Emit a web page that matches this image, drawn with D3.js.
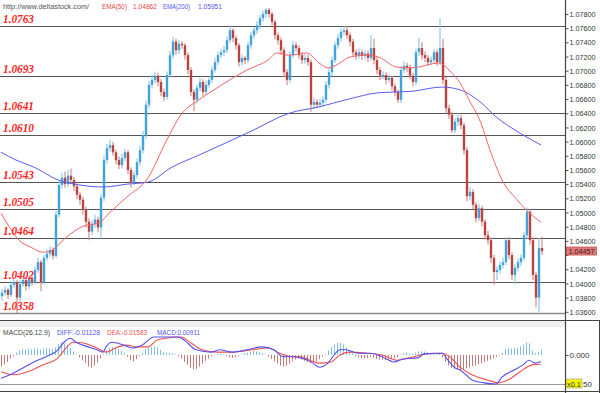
<!DOCTYPE html>
<html><head><meta charset="utf-8">
<script src="https://cdn.jsdelivr.net/npm/d3@7"></script>
<style>body{margin:0;background:#fff}svg{display:block}</style>
</head><body><svg id="c" width="600" height="393"></svg>
<script>
const opens = [1.0382,1.0387,1.0391,1.0384,1.0398,1.0402,1.0380,1.0399,1.0405,1.0396,
1.0406,1.0402,1.0419,1.0430,1.0402,1.0436,1.0442,1.0447,1.0439,1.0497,
1.0539,1.0549,1.0540,1.0552,1.0546,1.0537,1.0525,1.0518,1.0504,1.0487,
1.0473,1.0484,1.0490,1.0479,1.0521,1.0574,1.0591,1.0595,1.0585,1.0574,
1.0567,1.0577,1.0585,1.0560,1.0543,1.0553,1.0571,1.0588,1.0609,1.0652,
1.0680,1.0687,1.0693,1.0684,1.0670,1.0663,1.0694,1.0722,1.0741,1.0729,
1.0738,1.0736,1.0722,1.0701,1.0670,1.0659,1.0676,1.0684,1.0670,1.0680,
1.0687,1.0701,1.0712,1.0722,1.0726,1.0729,1.0743,1.0757,1.0746,1.0736,
1.0712,1.0718,1.0715,1.0736,1.0750,1.0757,1.0764,1.0774,1.0780,1.0786,
1.0780,1.0769,1.0750,1.0743,1.0729,1.0698,1.0687,1.0722,1.0736,1.0732,
1.0722,1.0715,1.0718,1.0712,1.0652,1.0656,1.0652,1.0655,1.0659,1.0680,
1.0698,1.0715,1.0736,1.0746,1.0755,1.0757,1.0750,1.0741,1.0726,1.0722,
1.0726,1.0721,1.0724,1.0718,1.0732,1.0715,1.0701,1.0693,1.0694,1.0687,
1.0690,1.0678,1.0670,1.0659,1.0701,1.0707,1.0704,1.0693,1.0684,1.0726,
1.0732,1.0722,1.0718,1.0712,1.0715,1.0726,1.0712,1.0732,1.0687,1.0647,
1.0638,1.0616,1.0628,1.0633,1.0623,1.0588,1.0523,1.0529,1.0511,1.0492,
1.0506,1.0487,1.0468,1.0461,1.0436,1.0416,1.0419,1.0426,1.0430,1.0461,
1.0440,1.0412,1.0422,1.0430,1.0436,1.0468,1.0501,1.0461,1.0412,1.0380,
1.0450];
const highs = [1.0392,1.0396,1.0394,1.0403,1.0408,1.0405,1.0404,1.0410,1.0409,1.0411,
1.0410,1.0424,1.0436,1.0433,1.0440,1.0448,1.0452,1.0451,1.0502,1.0545,
1.0556,1.0558,1.0560,1.0562,1.0550,1.0541,1.0529,1.0522,1.0508,1.0492,
1.0489,1.0497,1.0494,1.0526,1.0580,1.0597,1.0602,1.0600,1.0589,1.0579,
1.0583,1.0590,1.0588,1.0564,1.0558,1.0576,1.0594,1.0615,1.0658,1.0686,
1.0694,1.0699,1.0697,1.0688,1.0675,1.0699,1.0728,1.0748,1.0745,1.0743,
1.0742,1.0739,1.0726,1.0705,1.0674,1.0681,1.0690,1.0688,1.0686,1.0692,
1.0706,1.0718,1.0727,1.0731,1.0735,1.0749,1.0764,1.0760,1.0750,1.0739,
1.0723,1.0721,1.0741,1.0755,1.0762,1.0770,1.0779,1.0785,1.0788,1.0788,
1.0783,1.0772,1.0754,1.0747,1.0733,1.0702,1.0727,1.0742,1.0740,1.0736,
1.0726,1.0723,1.0723,1.0716,1.0662,1.0660,1.0661,1.0664,1.0685,1.0703,
1.0720,1.0741,1.0752,1.0760,1.0764,1.0763,1.0754,1.0745,1.0730,1.0731,
1.0730,1.0729,1.0728,1.0750,1.0745,1.0719,1.0705,1.0699,1.0698,1.0695,
1.0693,1.0682,1.0673,1.0706,1.0713,1.0711,1.0708,1.0697,1.0731,1.0746,
1.0740,1.0727,1.0722,1.0720,1.0731,1.0730,1.0774,1.0745,1.0691,1.0652,
1.0642,1.0633,1.0640,1.0638,1.0627,1.0592,1.0536,1.0533,1.0515,1.0512,
1.0510,1.0491,1.0474,1.0465,1.0440,1.0424,1.0431,1.0436,1.0466,1.0465,
1.0444,1.0427,1.0435,1.0441,1.0473,1.0507,1.0505,1.0466,1.0416,1.0464,
1.0466];
const lows = [1.0376,1.0383,1.0378,1.0381,1.0394,1.0358,1.0374,1.0395,1.0390,1.0392,
1.0397,1.0399,1.0415,1.0389,1.0398,1.0432,1.0438,1.0434,1.0436,1.0493,
1.0534,1.0535,1.0536,1.0541,1.0530,1.0519,1.0511,1.0497,1.0479,1.0461,
1.0468,1.0479,1.0472,1.0463,1.0516,1.0569,1.0586,1.0580,1.0568,1.0561,
1.0562,1.0572,1.0554,1.0535,1.0538,1.0548,1.0566,1.0583,1.0604,1.0647,
1.0675,1.0682,1.0678,1.0664,1.0657,1.0659,1.0690,1.0717,1.0723,1.0724,
1.0731,1.0716,1.0695,1.0664,1.0643,1.0654,1.0671,1.0664,1.0666,1.0676,
1.0683,1.0697,1.0708,1.0718,1.0721,1.0725,1.0739,1.0740,1.0730,1.0706,
1.0707,1.0709,1.0711,1.0731,1.0745,1.0752,1.0759,1.0769,1.0775,1.0775,
1.0764,1.0744,1.0737,1.0722,1.0691,1.0680,1.0683,1.0718,1.0727,1.0717,
1.0709,1.0710,1.0707,1.0642,1.0646,1.0647,1.0648,1.0650,1.0655,1.0675,
1.0693,1.0711,1.0731,1.0741,1.0750,1.0745,1.0735,1.0720,1.0716,1.0717,
1.0715,1.0716,1.0712,1.0714,1.0709,1.0695,1.0687,1.0688,1.0681,1.0683,
1.0672,1.0664,1.0655,1.0655,1.0696,1.0698,1.0688,1.0678,1.0680,1.0721,
1.0716,1.0712,1.0707,1.0708,1.0710,1.0707,1.0708,1.0681,1.0640,1.0632,
1.0612,1.0612,1.0622,1.0617,1.0582,1.0516,1.0517,1.0505,1.0486,1.0488,
1.0481,1.0462,1.0455,1.0429,1.0398,1.0405,1.0414,1.0421,1.0426,1.0434,
1.0405,1.0399,1.0417,1.0425,1.0432,1.0463,1.0455,1.0405,1.0366,1.0360,
1.0440];
const closes = [1.0387,1.0391,1.0384,1.0398,1.0402,1.0380,1.0399,1.0405,1.0396,1.0406,
1.0402,1.0419,1.0430,1.0402,1.0436,1.0442,1.0447,1.0439,1.0497,1.0539,
1.0549,1.0540,1.0552,1.0546,1.0537,1.0525,1.0518,1.0504,1.0487,1.0473,
1.0484,1.0490,1.0479,1.0521,1.0574,1.0591,1.0595,1.0585,1.0574,1.0567,
1.0577,1.0585,1.0560,1.0543,1.0553,1.0571,1.0588,1.0609,1.0652,1.0680,
1.0687,1.0693,1.0684,1.0670,1.0663,1.0694,1.0722,1.0741,1.0729,1.0738,
1.0736,1.0722,1.0701,1.0670,1.0659,1.0676,1.0684,1.0670,1.0680,1.0687,
1.0701,1.0712,1.0722,1.0726,1.0729,1.0743,1.0757,1.0746,1.0736,1.0712,
1.0718,1.0715,1.0736,1.0750,1.0757,1.0764,1.0774,1.0780,1.0786,1.0780,
1.0769,1.0750,1.0743,1.0729,1.0698,1.0687,1.0722,1.0736,1.0732,1.0722,
1.0715,1.0718,1.0712,1.0652,1.0656,1.0652,1.0655,1.0659,1.0680,1.0698,
1.0715,1.0736,1.0746,1.0755,1.0757,1.0750,1.0741,1.0726,1.0722,1.0726,
1.0721,1.0724,1.0718,1.0732,1.0715,1.0701,1.0693,1.0694,1.0687,1.0690,
1.0678,1.0670,1.0659,1.0701,1.0707,1.0704,1.0693,1.0684,1.0726,1.0732,
1.0722,1.0718,1.0712,1.0715,1.0726,1.0712,1.0732,1.0687,1.0647,1.0638,
1.0616,1.0628,1.0633,1.0623,1.0588,1.0523,1.0529,1.0511,1.0492,1.0506,
1.0487,1.0468,1.0461,1.0436,1.0416,1.0419,1.0426,1.0430,1.0461,1.0440,
1.0412,1.0422,1.0430,1.0436,1.0468,1.0501,1.0461,1.0412,1.0380,1.0450,
1.04457];

const ema50Idx = [0,3,6,10,14,17,22,27,33,36,42,49,55,60,66,71,82,89,92,96,102,106,109,113,116,122,126,132,137,146,150,153,156,160,163,167,172,175,180];
const ema50Val = [1.0499,1.0478,1.0461,1.0451,1.0444,1.0447,1.0466,1.0480,1.0486,1.0499,1.0522,1.0549,1.0600,1.0638,1.0659,1.0673,1.0701,1.0715,1.0725,1.0722,1.0725,1.0711,1.0704,1.0711,1.0719,1.0722,1.0719,1.0705,1.0704,1.0711,1.0698,1.0683,1.0659,1.0626,1.0588,1.0546,1.0518,1.0504,1.04862];
const ema200Idx = [0,5,11,19,26,34,42,49,57,66,84,96,106,115,126,137,147,153,160,165,173,180];
const ema200Val = [1.0585,1.0574,1.0564,1.0546,1.0539,1.0536,1.0540,1.0543,1.0564,1.0581,1.0616,1.0640,1.0649,1.0659,1.0669,1.0671,1.0677,1.0673,1.0655,1.0635,1.0612,1.05951];

const levels = [1.0763,1.0693,1.0641,1.0610,1.0543,1.0505,1.0464,1.0402,1.0358];
const levelLabels = ["1.0763","1.0693","1.0641","1.0610","1.0543","1.0505","1.0464","1.0402","1.0358"];
const priceTicks = [1.078,1.076,1.074,1.072,1.070,1.068,1.066,1.064,1.062,1.060,1.058,1.056,1.054,1.052,1.050,1.048,1.046,1.044,1.042,1.040,1.038,1.036];
const hiddenTick = 1.044;
const lastPrice = 1.04457;

const histVals = [-0.020,-0.016,-0.012,-0.006,-0.002,0.004,0.008,0.010,0.009,0.011,
0.010,0.012,0.011,0.009,0.011,0.012,0.011,0.010,0.013,0.019,
0.022,0.020,0.017,0.012,0.006,0.001,-0.004,-0.009,-0.014,-0.020,
-0.022,-0.018,-0.013,-0.006,0.002,0.008,0.012,0.014,0.013,0.010,
0.007,0.004,-0.003,-0.009,-0.011,-0.007,-0.002,0.004,0.010,0.013,
0.014,0.015,0.013,0.009,0.005,0.004,0.003,0.003,0.001,-0.002,
-0.006,-0.012,-0.017,-0.022,-0.025,-0.024,-0.020,-0.015,-0.010,-0.006,
-0.002,0.001,0.002,0.003,0.001,-0.002,-0.004,-0.005,-0.004,-0.002,
0.001,0.003,0.004,0.006,0.007,0.006,0.005,0.003,0.001,-0.003,
-0.007,-0.011,-0.015,-0.018,-0.020,-0.019,-0.015,-0.011,-0.008,-0.006,
-0.008,-0.010,-0.012,-0.014,-0.013,-0.011,-0.007,-0.003,0.002,0.008,
0.014,0.018,0.021,0.021,0.018,0.013,0.008,0.003,-0.002,-0.004,
-0.006,-0.006,-0.005,-0.003,-0.005,-0.007,-0.008,-0.008,-0.009,-0.008,
-0.007,-0.006,-0.004,0.001,0.003,0.004,0.003,0.002,0.004,0.006,
0.007,0.006,0.005,0.003,0.002,0.001,0.002,-0.004,-0.012,-0.018,
-0.022,-0.024,-0.025,-0.026,-0.024,-0.023,-0.021,-0.019,-0.018,-0.016,
-0.014,-0.012,-0.010,-0.008,-0.006,-0.003,-0.001,0.004,0.010,0.012,
0.011,0.012,0.013,0.015,0.018,0.022,0.020,0.008,0.003,0.005,
0.00911];
const diffIdx = [0,3,6,11,15,19,21,23,25,29,32,34,35,37,41,44,47,51,54,59,61,65,70,73,77,82,87,91,94,97,100,104,106,109,111,113,115,119,123,127,131,134,139,141,144,147,149,151,153,155,157,161,165,167,171,174,176,178,180];
const diffVal = [-0.040,-0.034,-0.026,-0.012,-0.003,0.009,0.022,0.029,0.022,0.014,0.009,0.005,0.014,0.022,0.017,0.012,0.017,0.031,0.031,0.031,0.026,0.009,0.005,0.009,0.005,0.009,0.014,0.009,-0.003,-0.003,-0.005,-0.014,-0.021,-0.014,0.000,0.009,0.009,0.003,0.003,-0.003,-0.012,-0.007,-0.005,0.002,0.003,0.003,-0.009,-0.021,-0.026,-0.034,-0.043,-0.048,-0.050,-0.038,-0.026,-0.017,-0.009,-0.014,-0.01128];
const deaIdx = [0,4,9,14,19,22,24,27,32,35,39,42,45,49,52,55,60,63,67,72,77,84,89,93,97,100,103,106,110,113,116,122,127,132,136,142,147,150,153,157,162,166,169,173,177,180];
const deaVal = [-0.029,-0.034,-0.029,-0.017,-0.005,0.014,0.022,0.021,0.012,0.005,0.014,0.017,0.014,0.014,0.026,0.029,0.031,0.022,0.009,0.005,0.005,0.009,0.012,0.003,-0.003,-0.003,-0.009,-0.014,-0.012,0.000,0.005,0.003,0.000,-0.009,-0.005,0.002,0.003,-0.005,-0.021,-0.034,-0.043,-0.048,-0.043,-0.029,-0.017,-0.01583];
const macdTicks = [0, -0.05];

const svg = d3.select("#c");
const FONT = "'Liberation Sans', Arial, sans-serif";
const AX = 565.5;

const x = d3.scaleLinear().domain([0, 180]).range([1, 541]);
const y = d3.scaleLinear().domain([1.036, 1.078]).range([311.8, 14]);
const ym = d3.scaleLinear().domain([-0.05, 0.05]).range([384, 326]);

svg.append("rect").attr("width", 600).attr("height", 393).attr("fill", "#fff");

svg.append("clipPath").attr("id", "mainclip").append("rect")
  .attr("x", 0).attr("y", 0).attr("width", AX).attr("height", 313);

// level lines
svg.append("g").selectAll("line").data(levels).join("line")
  .attr("x1", 0).attr("x2", AX)
  .attr("y1", d => Math.round(y(d)) + 0.5).attr("y2", d => Math.round(y(d)) + 0.5)
  .attr("stroke", "#555").attr("stroke-width", 1.2);

// candles
const cg = svg.append("g").attr("clip-path", "url(#mainclip)");
const idx = d3.range(closes.length);
const up = i => closes[i] >= opens[i];
cg.selectAll("line.wick").data(idx).join("line").attr("class", "wick")
  .attr("x1", i => x(i) + 1).attr("x2", i => x(i) + 1)
  .attr("y1", i => y(highs[i])).attr("y2", i => y(lows[i]))
  .attr("stroke", i => up(i) ? "#8ec8ea" : "#d88c8c")
  .attr("stroke-width", 1.2);
cg.selectAll("rect.body").data(idx).join("rect").attr("class", "body")
  .attr("x", i => x(i) - 0.2).attr("width", 2.4)
  .attr("y", i => y(Math.max(opens[i], closes[i])))
  .attr("height", i => Math.max(1, Math.abs(y(opens[i]) - y(closes[i]))))
  .attr("fill", i => up(i) ? "#41a3da" : "#b84442");

// EMAs
const lineGen = (ids, vals) => d3.line().x((d, k) => x(ids[k])).y(d => y(d)).curve(d3.curveMonotoneX)(vals);
cg.append("path").attr("d", lineGen(ema200Idx, ema200Val)).attr("fill", "none")
  .attr("stroke", "#5c5cf0").attr("stroke-width", 1);
cg.append("path").attr("d", lineGen(ema50Idx, ema50Val)).attr("fill", "none")
  .attr("stroke", "#f26464").attr("stroke-width", 1);

// level labels
svg.append("g").selectAll("text").data(levels).join("text")
  .attr("x", 3).attr("y", d => y(d) - 3)
  .attr("font-family", "'Liberation Serif', 'Times New Roman', serif")
  .attr("font-style", "italic").attr("font-weight", "bold")
  .attr("font-size", 11.5).attr("fill", "#ff1e1e")
  .attr("textLength", 31).attr("lengthAdjust", "spacingAndGlyphs")
  .text((d, k) => levelLabels[k]);

// header
const hdr = [
  {t: "http://www.deltastock.com/", x: 3, w: 86, c: "#555"},
  {t: "EMA(50)", x: 102, w: 25, c: "#e84848"},
  {t: "1.04862", x: 133, w: 24, c: "#e84848"},
  {t: "EMA(200)", x: 163, w: 27, c: "#5555ee"},
  {t: "1.05951", x: 198, w: 24, c: "#5555ee"}
];
svg.append("g").selectAll("text").data(hdr).join("text")
  .attr("x", d => d.x).attr("y", 8.5).attr("font-family", FONT).attr("font-size", 7.5)
  .attr("fill", d => d.c).attr("textLength", d => d.w).attr("lengthAdjust", "spacingAndGlyphs")
  .text(d => d.t);

// main panel bottom
svg.append("line").attr("x1", 0).attr("x2", AX).attr("y1", 313.5).attr("y2", 313.5)
  .attr("stroke", "#8a8a8a").attr("stroke-width", 1.5);

// price axis (1.04400 label sits under the last-price box, as in the reference)
const ax = svg.append("g").attr("transform", `translate(${AX},0)`)
  .call(d3.axisRight(y).tickValues(priceTicks)
    .tickFormat(d => d === hiddenTick ? "" : d3.format(".5f")(d)).tickSize(3).tickPadding(1));
ax.select(".domain").remove();
ax.selectAll("line").attr("stroke", "#555");
ax.selectAll("text").filter(d => d !== hiddenTick)
  .attr("font-family", FONT).attr("font-size", 8).attr("fill", "#333")
  .attr("textLength", 26).attr("lengthAdjust", "spacingAndGlyphs");

// last price box
svg.append("rect").attr("x", 566.5).attr("y", y(lastPrice) - 4).attr("width", 30).attr("height", 8)
  .attr("fill", "#e27878").attr("stroke", "#c85050").attr("stroke-width", 0.8);
svg.append("text").attr("x", 581.5).attr("y", y(lastPrice) + 2.7).attr("text-anchor", "middle")
  .attr("font-family", FONT).attr("font-size", 7.5).attr("fill", "#3a2020")
  .attr("textLength", 26).attr("lengthAdjust", "spacingAndGlyphs")
  .text(d3.format(".5f")(lastPrice));

// MACD panel frame
svg.append("rect").attr("x", 0).attr("y", 321).attr("width", AX).attr("height", 6).attr("fill", "#f0f0f0");
svg.append("line").attr("x1", 0).attr("x2", 600).attr("y1", 320.5).attr("y2", 320.5).attr("stroke", "#444").attr("stroke-width", 1.2);
svg.append("line").attr("x1", 0).attr("x2", AX).attr("y1", 384.5).attr("y2", 384.5).attr("stroke", "#9a9a9a").attr("stroke-width", 1.2);
svg.append("line").attr("x1", 0).attr("x2", 600).attr("y1", 391.5).attr("y2", 391.5).attr("stroke", "#444").attr("stroke-width", 1.2);
svg.append("line").attr("x1", 599.5).attr("x2", 599.5).attr("y1", 320).attr("y2", 393).attr("stroke", "#444");

const mg = svg.append("g");
mg.selectAll("line").data(idx).join("line")
  .attr("x1", i => x(i) + 0.5).attr("x2", i => x(i) + 0.5)
  .attr("y1", ym(0)).attr("y2", i => ym(histVals[i]))
  .attr("stroke", i => histVals[i] >= 0 ? "#7ec0e6" : "#c47a7a").attr("stroke-width", 1);
const mline = (ids, vals) => d3.line().x((d, k) => x(ids[k])).y(d => ym(d)).curve(d3.curveMonotoneX)(vals);
mg.append("path").attr("d", mline(deaIdx, deaVal)).attr("fill", "none").attr("stroke", "#f25050").attr("stroke-width", 1.1);
mg.append("path").attr("d", mline(diffIdx, diffVal)).attr("fill", "none").attr("stroke", "#5050f5").attr("stroke-width", 1.1);

const mh = [
  {t: "MACD(26.12.9)", x: 3, w: 47, c: "#444"},
  {t: "DIFF:-0.01128", x: 57, w: 43, c: "#5555ee"},
  {t: "DEA:-0.01583", x: 107, w: 40, c: "#f05050"},
  {t: "MACD:0.00911", x: 157, w: 43, c: "#5555ee"}
];
svg.append("g").selectAll("text").data(mh).join("text")
  .attr("x", d => d.x).attr("y", 334.5).attr("font-family", FONT).attr("font-size", 7.5)
  .attr("fill", d => d.c).attr("textLength", d => d.w).attr("lengthAdjust", "spacingAndGlyphs")
  .text(d => d.t);

// MACD axis: the -0.050 label is mostly covered by the x0.1 tag, only "50" shows
const max = svg.append("g").attr("transform", `translate(${AX},0)`)
  .call(d3.axisRight(ym).tickValues(macdTicks)
    .tickFormat(d => d === 0 ? d3.format(".3f")(d) : "").tickSize(3).tickPadding(1));
max.select(".domain").remove();
max.selectAll("line").attr("stroke", "#555");
max.selectAll("text").attr("font-family", FONT).attr("font-size", 8).attr("fill", "#333");
svg.append("text").attr("x", 583).attr("y", ym(-0.05) + 2.5).attr("font-family", FONT)
  .attr("font-size", 8).attr("fill", "#333").text(d3.format(".3f")(-0.05).slice(-2));

svg.append("rect").attr("x", 566).attr("y", 379).attr("width", 16).attr("height", 9)
  .attr("fill", "#f5f500").attr("stroke", "#999").attr("stroke-width", 0.6);
svg.append("text").attr("x", 567).attr("y", 386.5).attr("font-family", FONT).attr("font-size", 7.5)
  .attr("fill", "#333").attr("textLength", 14).attr("lengthAdjust", "spacingAndGlyphs").text("x0.1");

// axis separator
svg.append("line").attr("x1", AX).attr("x2", AX).attr("y1", 0).attr("y2", 393).attr("stroke", "#444").attr("stroke-width", 1.2);
</script></body></html>
